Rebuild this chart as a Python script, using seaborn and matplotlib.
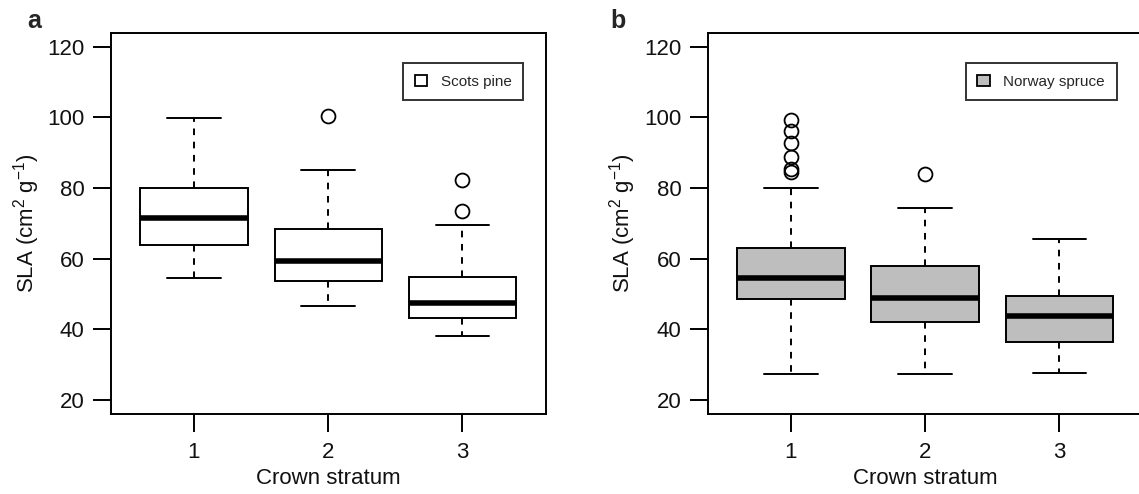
import matplotlib
matplotlib.use("Agg")
import matplotlib.pyplot as plt
from matplotlib.patches import Patch
import seaborn as sns

# Crown strata on the x axis
strata = [1, 2, 3]
stratum_labels = ["1", "2", "3"]

# Scots pine: five-number summaries and outliers per stratum (SLA, cm2 g-1)
pine_whislo = [54.5, 46.6, 38.0]
pine_q1 = [63.8, 53.7, 43.3]
pine_med = [71.5, 59.2, 47.5]
pine_q3 = [79.9, 68.3, 54.8]
pine_whishi = [99.7, 85.0, 69.6]
pine_fliers = [[], [100.3], [73.6, 82.2]]

# Norway spruce: five-number summaries and outliers per stratum
spruce_whislo = [27.3, 27.2, 27.6]
spruce_q1 = [48.6, 42.2, 36.3]
spruce_med = [54.5, 48.8, 43.9]
spruce_q3 = [62.9, 57.9, 49.4]
spruce_whishi = [80.1, 74.4, 65.6]
spruce_fliers = [[84.6, 85.4, 88.9, 92.8, 96.2, 99.3], [83.9], []]

yticks = [20, 40, 60, 80, 100, 120]

sns.set_style("ticks")
plt.rcParams["font.family"] = ["Liberation Sans", "DejaVu Sans"]
plt.rcParams["mathtext.default"] = "regular"

LW = 1.4
FS = 16


def summaries(lo, q1, med, q3, hi, fliers):
    return [
        dict(whislo=a, q1=b, med=c, q3=d, whishi=e, fliers=f)
        for a, b, c, d, e, f in zip(lo, q1, med, q3, hi, fliers)
    ]


def draw_panel(ax, stats, face, species, legend_right):
    ax.bxp(
        stats,
        positions=strata,
        widths=0.8,
        capwidths=0.4,
        patch_artist=True,
        showfliers=True,
        boxprops=dict(facecolor=face, edgecolor="black", linewidth=LW),
        medianprops=dict(color="black", linewidth=4.0, solid_capstyle="butt"),
        whiskerprops=dict(color="black", linewidth=LW, linestyle=(0, (3.4, 3.4))),
        capprops=dict(color="black", linewidth=LW),
        flierprops=dict(marker="o", markerfacecolor="none", markeredgecolor="black",
                        markersize=10, markeredgewidth=1.3),
    )
    ax.set_xlim(0.38, 3.62)
    ax.set_ylim(16, 124)
    ax.set_xticks(strata)
    ax.set_xticklabels(stratum_labels)
    ax.set_yticks(yticks)
    ax.tick_params(axis="both", direction="out", length=13, width=LW,
                   labelsize=FS, color="black", labelcolor="#111111")
    ax.tick_params(axis="y", pad=6)
    ax.tick_params(axis="x", pad=7)
    for s in ax.spines.values():
        s.set_visible(True)
        s.set_linewidth(LW)
        s.set_color("black")
    ax.set_xlabel("Crown stratum", fontsize=FS, labelpad=4, color="#111111")
    ax.set_ylabel("SLA (cm$^{2}$ g$^{-1}$)", fontsize=FS, labelpad=4, color="#111111")
    handle = Patch(facecolor=face, edgecolor="black", linewidth=1.3)
    leg = ax.legend([handle], [species], loc="upper right",
                    bbox_to_anchor=(legend_right, 0.92), borderaxespad=0,
                    fontsize=11, fancybox=False, frameon=True,
                    handlelength=0.8, handleheight=0.8, handletextpad=0.9,
                    borderpad=0.75)
    leg.get_frame().set_edgecolor("black")
    leg.get_frame().set_linewidth(LW)


fig = plt.figure(figsize=(11.39, 4.94), dpi=100)
ax_a = fig.add_axes([0.0972, 0.1619, 0.3819, 0.7719])
ax_b = fig.add_axes([0.6213, 0.1619, 0.3819, 0.7719])

draw_panel(ax_a, summaries(pine_whislo, pine_q1, pine_med, pine_q3, pine_whishi, pine_fliers),
           "white", "Scots pine", 0.948)
draw_panel(ax_b, summaries(spruce_whislo, spruce_q1, spruce_med, spruce_q3, spruce_whishi,
                           spruce_fliers),
           "#bebebe", "Norway spruce", 0.940)

fig.text(27 / 1139, 1 - 28 / 494, "a", fontsize=18, fontweight="bold", ha="left", va="baseline")
fig.text(610 / 1139, 1 - 28 / 494, "b", fontsize=18, fontweight="bold", ha="left", va="baseline")

fig.savefig("out.png", dpi=100, facecolor="white")
